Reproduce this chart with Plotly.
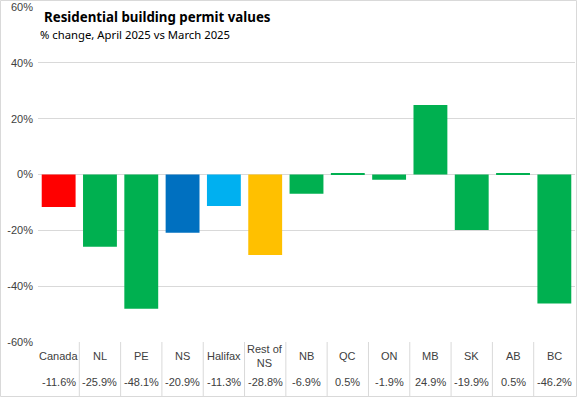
import plotly.graph_objects as go

categories = ["Canada", "NL", "PE", "NS", "Halifax", "Rest of<br>NS", "NB", "QC", "ON", "MB", "SK", "AB", "BC"]
values = [-11.6, -25.9, -48.1, -20.9, -11.3, -28.8, -6.9, 0.5, -1.9, 24.9, -19.9, 0.5, -46.2]
colors = ["#FF0000", "#00B050", "#00B050", "#0070C0", "#00B0F0", "#FFC000", "#00B050",
          "#00B050", "#00B050", "#00B050", "#00B050", "#00B050", "#00B050"]
tick_vals = [-60, -40, -20, 0, 20, 40, 60]
tick_text = ["-60%", "-40%", "-20%", "0%", "20%", "40%", "60%"]

W, H = 577, 397
ML, MR, MT, MB = 38, 2, 7, 55
PW, PH = W - ML - MR, H - MT - MB

def px_x(p):
    return (p - ML) / PW

def px_y(p):
    return 1 - (p - MT) / PH

xs = list(range(len(categories)))
fig = go.Figure(go.Bar(x=xs, y=values, marker=dict(color=colors, line=dict(width=0)),
                       width=0.82, hoverinfo="skip"))

font_fam = "Liberation Sans, Arial, sans-serif"
text_col = "#404040"

annotations = [
    dict(text="<b>Residential building permit values</b>", x=px_x(42), y=px_y(17), xref="paper", yref="paper",
         xanchor="left", yanchor="middle", showarrow=False,
         font=dict(family="Noto Sans", size=13.3, color="#000000")),
    dict(text="% change, April 2025 vs March 2025", x=px_x(38), y=px_y(34), xref="paper", yref="paper",
         xanchor="left", yanchor="middle", showarrow=False,
         font=dict(family="Noto Sans", size=11.3, color="#000000")),
]
for i, (c, v) in enumerate(zip(categories, values)):
    annotations.append(dict(text=c, x=i, y=px_y(356), xref="x", yref="paper", showarrow=False,
                            xanchor="center", yanchor="middle",
                            font=dict(family=font_fam, size=11, color=text_col)))
    annotations.append(dict(text=f"{v:.1f}%", x=i, y=px_y(382), xref="x", yref="paper", showarrow=False,
                            xanchor="center", yanchor="middle",
                            font=dict(family=font_fam, size=11, color=text_col)))

shapes = []
for i in range(len(categories) - 1):
    shapes.append(dict(type="line", xref="x", yref="paper", x0=i + 0.5, x1=i + 0.5,
                       y0=0, y1=px_y(396), line=dict(color="#D9D9D9", width=1)))
shapes.append(dict(type="rect", xref="paper", yref="paper", x0=px_x(0.5), x1=px_x(576.5),
                   y0=px_y(396.5), y1=px_y(0.5), line=dict(color="#D9D9D9", width=1)))

fig.update_layout(
    width=W, height=H,
    margin=dict(l=ML, r=MR, t=MT, b=MB),
    paper_bgcolor="white", plot_bgcolor="white",
    showlegend=False,
    bargap=0.18,
    xaxis=dict(range=[-0.5, len(categories) - 0.5], showticklabels=False, showgrid=False,
               zeroline=False, showline=False, ticks=""),
    yaxis=dict(range=[-60, 60], tickvals=tick_vals, ticktext=tick_text, showgrid=True,
               gridcolor="#D9D9D9", gridwidth=1, zeroline=True, zerolinecolor="#D9D9D9",
               zerolinewidth=1, showline=False, ticks="", ticklabelstandoff=4,
               tickfont=dict(family=font_fam, size=11, color=text_col)),
    annotations=annotations,
    shapes=shapes,
)

fig.write_html("out.html", config={"displayModeBar": False},
               post_script="document.body.style.margin='0';document.body.style.overflow='hidden';")
